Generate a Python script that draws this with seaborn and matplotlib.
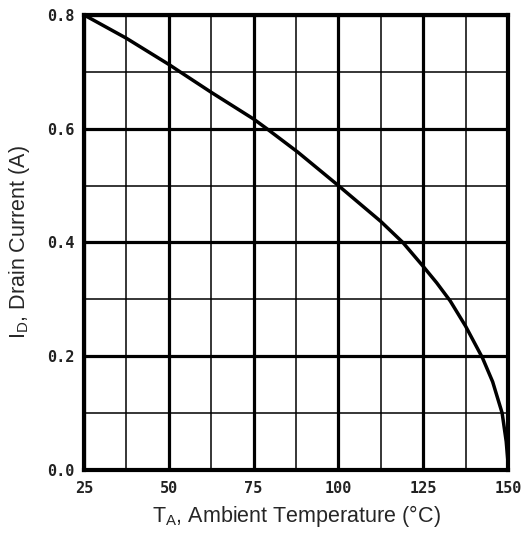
import matplotlib
matplotlib.use("Agg")
import matplotlib.pyplot as plt
import seaborn as sns
from matplotlib.ticker import MultipleLocator

sns.set_theme(style="white")
plt.rcParams['font.family'] = ['Liberation Sans', 'DejaVu Sans']

# Derating curve
temp_c = [25, 37.5, 50, 53.3, 62.5, 75, 78.9, 88, 100, 112.5, 119, 125, 129, 133,
          137.5, 142.5, 145.5, 148.3, 149.5, 150]
drain_a = [0.80, 0.759, 0.713, 0.70, 0.664, 0.617, 0.60, 0.559, 0.50, 0.437, 0.40,
           0.358, 0.329, 0.297, 0.253, 0.197, 0.155, 0.10, 0.05, 0.015]

x_ticks = [25, 50, 75, 100, 125, 150]
y_ticks = [0.0, 0.2, 0.4, 0.6, 0.8]

fig = plt.figure(figsize=(5.22, 5.34), dpi=100)
ax = fig.add_axes([0.161, 0.120, 0.812, 0.852])

# grid: thick majors, thin minors
ax.xaxis.set_minor_locator(MultipleLocator(12.5))
ax.yaxis.set_minor_locator(MultipleLocator(0.1))
ax.grid(which='major', color='black', linewidth=2.3)
ax.grid(which='minor', color='black', linewidth=1.1)
ax.set_axisbelow(True)

sns.lineplot(x=temp_c, y=drain_a, ax=ax, color='black', linewidth=2.5)

ax.set_xlim(25, 150)
ax.set_ylim(0, 0.8)
ax.set_xticks(x_ticks)
ax.set_yticks(y_ticks)
tick_font = dict(family='DejaVu Sans Mono', fontweight='bold', fontsize=11)
ax.set_xticklabels([str(t) for t in x_ticks], **tick_font)
ax.set_yticklabels([f"{t:.1f}" for t in y_ticks], **tick_font)
ax.tick_params(which='both', length=0, colors='#222222')
ax.tick_params(axis='x', pad=8)
ax.tick_params(axis='y', pad=7)

for s in ax.spines.values():
    s.set_color('black')
    s.set_linewidth(3)

ax.set_xlabel(r"T$_\mathregular{A}$, Ambient Temperature (°C)", fontsize=15.5, labelpad=5)
ax.set_ylabel(r"I$_\mathregular{D}$, Drain Current (A)", fontsize=15.5, labelpad=11)

fig.savefig("out.png", dpi=100)
